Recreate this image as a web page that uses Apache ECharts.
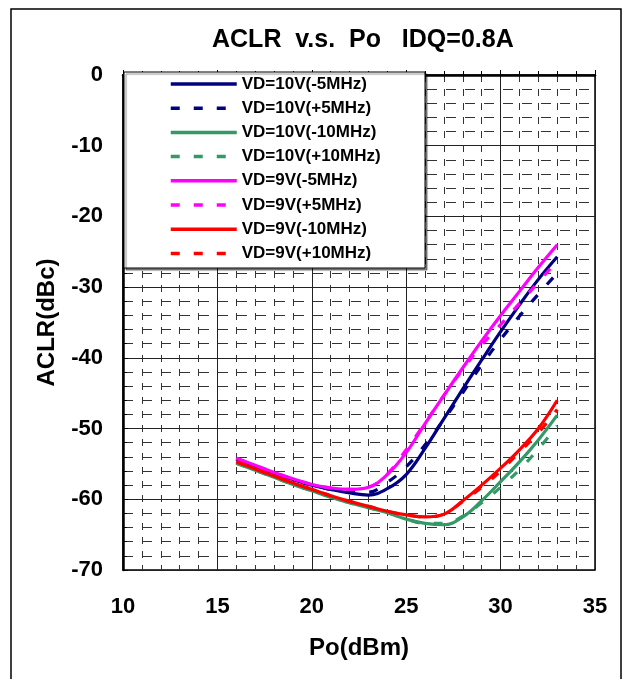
<!DOCTYPE html>
<html>
<head>
<meta charset="utf-8">
<script src="https://cdn.jsdelivr.net/npm/echarts@6/dist/echarts.min.js"></script>
<style>
html,body{margin:0;padding:0;background:#fff;}
#c{width:631px;height:679px;}
</style>
</head>
<body>
<div id="c"></div>
<script>
// Po (dBm)
const po = [16,17,18,19,20,21,22,23,24,25,26,27,28,29,30,31,32,33];
// ACLR (dBc)
const vd10m5  = [-54.3,-55.3,-56.3,-57.2,-58.0,-58.6,-59.1,-59.4,-58.5,-56.5,-52.8,-48.6,-44.4,-40.3,-36.3,-32.5,-28.9,-25.7];
const vd10p5  = [-54.3,-55.3,-56.3,-57.2,-58.0,-58.6,-59.0,-59.0,-57.6,-55.4,-52.3,-48.7,-44.9,-41.0,-37.4,-34.1,-31.0,-28.0];
const vd10m10 = [-54.9,-55.9,-56.9,-57.9,-58.8,-59.7,-60.5,-61.2,-61.9,-62.8,-63.4,-63.6,-62.5,-60.2,-57.5,-54.7,-51.6,-48.1];
const vd10p10 = [-54.9,-55.9,-56.9,-57.9,-58.8,-59.7,-60.5,-61.2,-61.9,-62.8,-63.4,-63.4,-62.4,-60.5,-58.3,-55.8,-52.9,-49.6];
const vd9m5   = [-54.2,-55.2,-56.2,-57.1,-57.9,-58.4,-58.6,-58.3,-56.5,-53.4,-49.3,-45.3,-41.4,-37.6,-34.0,-30.6,-27.2,-24.0];
const vd9p5   = [-54.2,-55.2,-56.2,-57.1,-57.9,-58.4,-58.6,-58.3,-56.4,-53.0,-49.2,-45.3,-41.6,-38.2,-35.3,-32.3,-29.3,-26.3];
const vd9m10  = [-54.7,-55.7,-56.7,-57.7,-58.6,-59.5,-60.3,-61.0,-61.7,-62.2,-62.5,-62.1,-60.2,-58.0,-55.6,-53.0,-50.0,-46.0];
const vd9p10  = [-54.7,-55.7,-56.7,-57.7,-58.6,-59.5,-60.3,-61.0,-61.7,-62.2,-62.5,-62.1,-60.3,-58.3,-56.0,-53.3,-50.6,-47.3];

const names = ['VD=10V(-5MHz)','VD=10V(+5MHz)','VD=10V(-10MHz)','VD=10V(+10MHz)',
               'VD=9V(-5MHz)','VD=9V(+5MHz)','VD=9V(-10MHz)','VD=9V(+10MHz)'];
const values = [vd10m5, vd10p5, vd10m10, vd10p10, vd9m5, vd9p5, vd9m10, vd9p10];
const colors = ['#000080','#000080','#339966','#339966','#FF00FF','#FF00FF','#FF0000','#FF0000'];
const xTicks = [10,15,20,25,30,35];
const yTicks = [-70,-60,-50,-40,-30,-20,-10,0];

const FF = "'Liberation Sans', Arial, sans-serif";

const series = names.map((n, i) => ({
  name: n,
  type: 'line',
  data: po.map((x, k) => [x, values[i][k]]),
  symbol: 'none',
  showSymbol: false,
  smooth: 0.4,
  color: colors[i],
  lineStyle: { color: colors[i], width: 3.2, type: (i % 2 === 1) ? [9, 14] : 'solid', cap: 'butt' },
  z: 2 + i
}));

const chart = echarts.init(document.getElementById('c'), null, {renderer: 'canvas'});
chart.setOption({
  animation: false,
  backgroundColor: '#fff',
  title: {
    text: 'ACLR  v.s.  Po   IDQ=0.8A',
    left: 212, top: 28, padding: 0,
    textStyle: { fontFamily: FF, fontSize: 25, fontWeight: 'bold', color: '#000' }
  },
  grid: { left: 123, right: 36, top: 75, bottom: 109, show: true, borderColor: '#000', borderWidth: 1.5, backgroundColor: 'transparent' },
  legend: {
    orient: 'vertical',
    left: 169, top: 75.5, padding: 0,
    itemWidth: 66, itemHeight: 17, itemGap: 7.2,
    data: names,
    itemStyle: { opacity: 0, borderWidth: 0 },
    lineStyle: { width: 3.5 },
    textStyle: { fontFamily: FF, fontSize: 17, fontWeight: 'bold', color: '#000', lineHeight: 17 },
    z: 10
  },
  xAxis: {
    type: 'value', min: 10, max: 35, interval: 5,
    name: 'Po(dBm)', nameLocation: 'middle', nameGap: 66,
    nameTextStyle: { fontFamily: FF, fontSize: 24, fontWeight: 'bold', color: '#000' },
    axisLine: { show: true, lineStyle: { color: '#000', width: 2.5 } },
    axisTick: { show: true, inside: true, length: 5, lineStyle: { color: '#000' } },
    minorTick: { show: true, splitNumber: 5, length: 4, lineStyle: { color: '#000' } },
    axisLabel: { margin: 26, fontFamily: FF, fontSize: 22, fontWeight: 'bold', color: '#000',
      formatter: v => xTicks.includes(v) ? String(v) : '' },
    splitLine: { show: true, lineStyle: { color: '#222', width: 1 } },
    minorSplitLine: { show: true, lineStyle: { color: '#333', width: 1, type: [7, 7] } }
  },
  yAxis: {
    type: 'value', min: -70, max: 0, interval: 10,
    name: 'ACLR(dBc)', nameLocation: 'middle', nameGap: 64,
    nameTextStyle: { fontFamily: FF, fontSize: 24, fontWeight: 'bold', color: '#000' },
    axisLine: { show: true, lineStyle: { color: '#000', width: 2.5 } },
    axisTick: { show: true, inside: true, length: 5, lineStyle: { color: '#000' } },
    minorTick: { show: true, splitNumber: 5, length: 4, lineStyle: { color: '#000' } },
    axisLabel: { margin: 20, fontFamily: FF, fontSize: 22, fontWeight: 'bold', color: '#000',
      formatter: v => yTicks.includes(v) ? String(v) : '' },
    splitLine: { show: true, lineStyle: { color: '#222', width: 1 } },
    minorSplitLine: { show: true, lineStyle: { color: '#333', width: 1, type: [10, 9] } }
  },
  graphic: [
    { type: 'rect', z: 0, silent: true,
      shape: { x: 11, y: 9, width: 610, height: 690 },
      style: { fill: 'none', stroke: '#000', lineWidth: 1.5 } },
    { type: 'rect', z: 9, silent: true,
      shape: { x: 124, y: 72, width: 301, height: 196 },
      style: { fill: '#fff', stroke: '#000', lineWidth: 1,
               shadowColor: 'rgba(0,0,0,0.45)', shadowOffsetX: 2, shadowOffsetY: 2, shadowBlur: 1 } }
  ],
  series: series
});
</script>
</body>
</html>
